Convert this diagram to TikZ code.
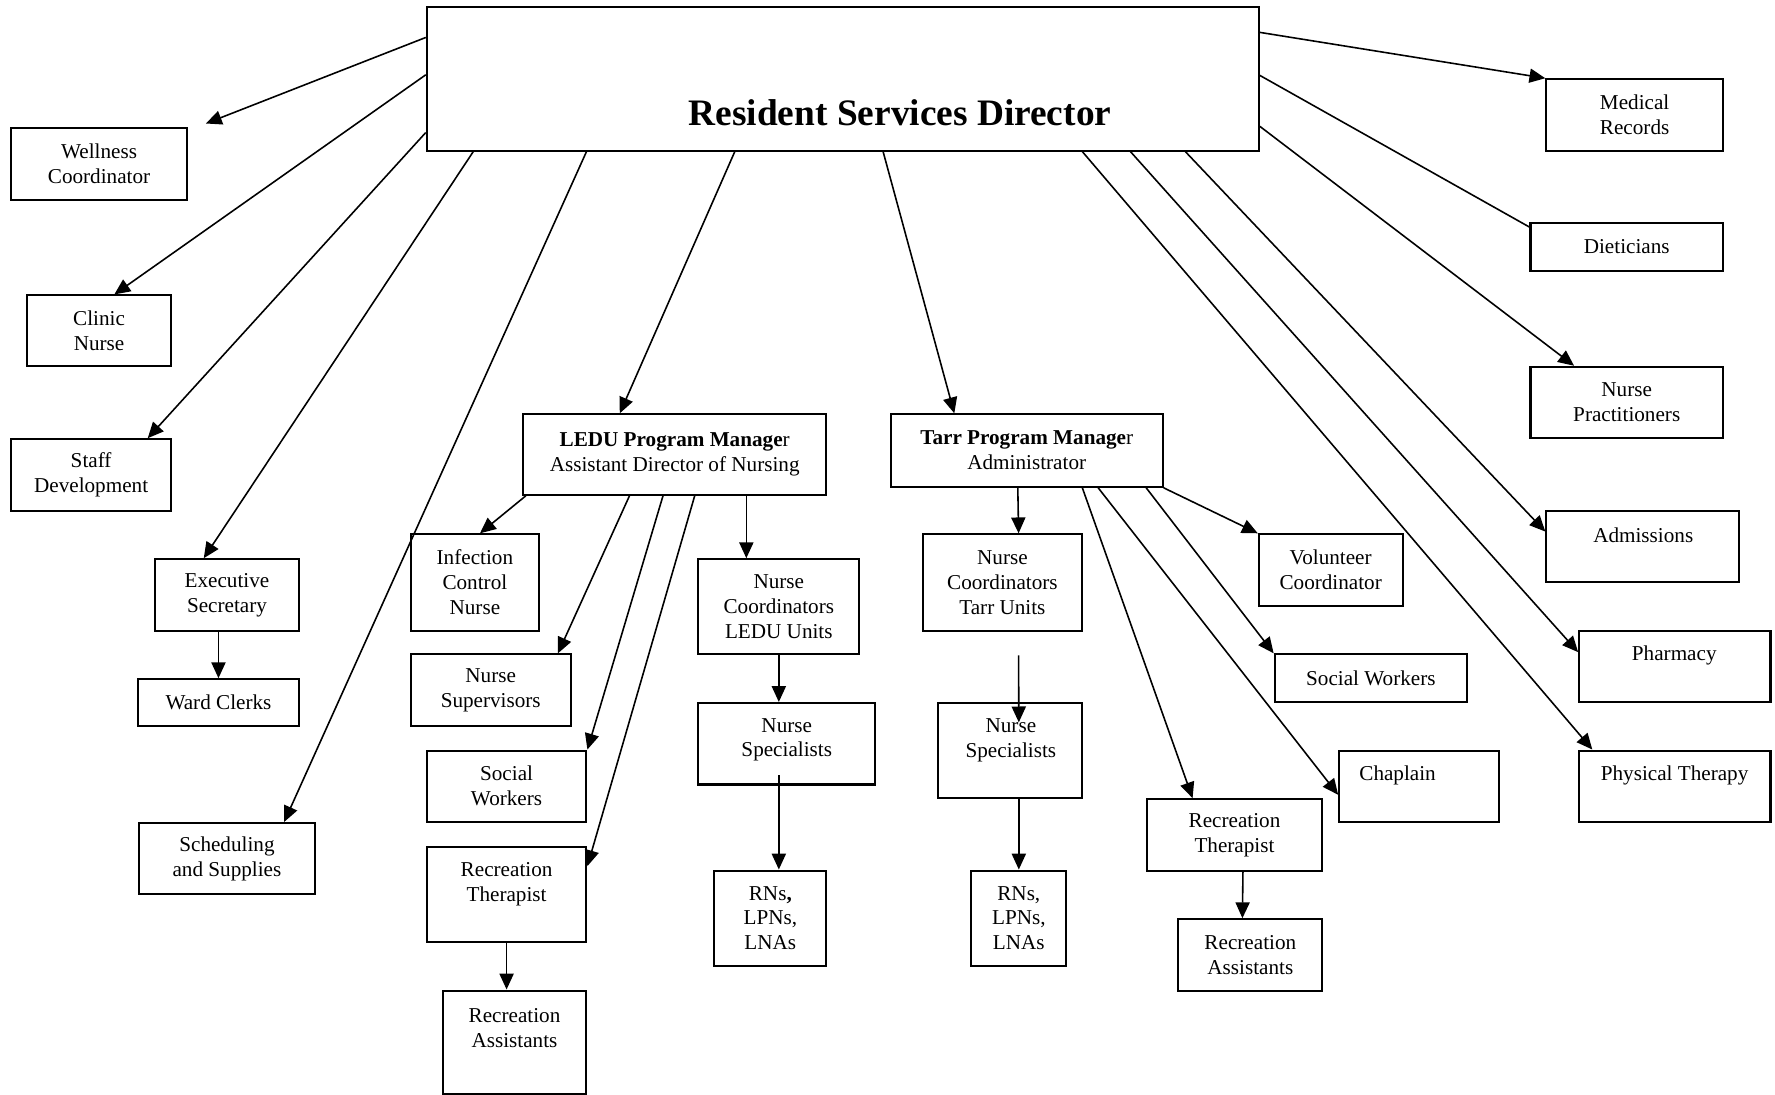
\documentclass[tikz,border=0pt]{standalone}
\usepackage{fontspec}
\setmainfont{Liberation Serif}
\usetikzlibrary{arrows.meta}
\usetikzlibrary{calc}

\begin{document}
\begin{tikzpicture}[x=1pt, y=-1pt,
        >={Triangle[length=14pt,width=12.5pt]},
        box/.style={draw, line width=1.8pt, inner sep=0pt, align=center, font=\fontsize{18.7}{22}\selectfont},
        txt/.style={inner sep=0pt, align=center, font=\fontsize{18.7}{22}\selectfont},
        link/.style={->, line width=1.4pt}]
        \useasboundingbox (0,0) rectangle (1568,967);

        % Director
        \node[box, minimum width=735pt, minimum height=127pt] (dir) at (744.5,69.5) {};
        \node[inner sep=0pt, anchor=base, font=\fontsize{33}{40}\selectfont\bfseries] (dir-t) at (795,110.5) {Resident Services Director};

        % Left column
        \node[box, minimum width=155pt, minimum height=64pt] (wellness) at (87.5,145) {Wellness\\Coordinator};
        \node[box, minimum width=127pt, minimum height=62pt] (clinic) at (87.5,292) {Clinic\\Nurse};
        \node[box, minimum width=141pt, minimum height=63pt] (staff) at (80.5,419.5) {Staff\\Development};
        \node[box, minimum width=127pt, minimum height=63pt] (execsec) at (200.5,525.5) {Executive\\Secretary};
        \node[box, minimum width=142pt, minimum height=41pt] (wardclerks) at (193,620.5) {Ward Clerks};
        \node[box, minimum width=155pt, minimum height=63pt] (sched) at (200.5,758.5) {Scheduling\\and Supplies};

        % LEDU branch
        \node[box, minimum width=268pt, minimum height=71pt] (ledu) at (596,401.5) {\textbf{LEDU Program Manage}r\\Assistant Director of Nursing};
        \node[box, minimum width=113pt, minimum height=85pt] (infection) at (419.5,514.5) {Infection\\Control\\Nurse};
        \node[box, minimum width=141pt, minimum height=63pt] (nursesup) at (433.5,609.5) {Nurse\\Supervisors};
        \node[box, minimum width=141pt, minimum height=63pt] (lsocial) at (447.5,694.5) {Social\\Workers};
        \node[box, minimum width=141pt, minimum height=84pt] (lrecther) at (447.5,790) {};
        \node[txt] (lrecther-t) at (447.5,781) {Recreation\\Therapist};
        \node[box, minimum width=127pt, minimum height=91pt] (lrecasst) at (454.5,920.5) {};
        \node[txt] (lrecasst-t) at (454.5,908) {Recreation\\Assistants};
        \node[box, minimum width=142pt, minimum height=84pt] (ncledu) at (688,536) {Nurse\\Coordinators\\LEDU Units};
        \node[box, minimum width=156pt, minimum height=72pt] (nsledu) at (695,657) {};
        \node[txt] (nsledu-t) at (695,653.5) {Nurse\\Specialists};
        \node[box, minimum width=99pt, minimum height=84pt] (rnledu) at (680.5,811) {RNs\textbf{,}\\LPNs,\\LNAs};

        % Tarr branch
        \node[box, minimum width=240pt, minimum height=64pt] (tarr) at (907,398) {\textbf{Tarr Program Manage}r\\Administrator};
        \node[box, minimum width=141pt, minimum height=85pt] (nctarr) at (885.5,514.5) {Nurse\\Coordinators\\Tarr Units};
        \node[box, minimum width=127pt, minimum height=84pt] (nstarr) at (892.5,663) {};
        \node[txt] (nstarr-t) at (893,654) {Nurse\\Specialists};
        \node[box, minimum width=84pt, minimum height=84pt] (rntarr) at (900,811) {RNs,\\LPNs,\\LNAs};
        \node[box, minimum width=127pt, minimum height=63pt] (volunteer) at (1175.5,503.5) {Volunteer\\Coordinator};
        \node[box, minimum width=170pt, minimum height=42pt] (tsocial) at (1211,599) {Social Workers};
        \node[box, minimum width=141pt, minimum height=63pt] (chaplain) at (1253.5,694.5) {};
        \node[txt] (chaplain-t) at (1234.6,685) {Chaplain};
        \node[box, minimum width=155pt, minimum height=63pt] (trecther) at (1090.5,737.5) {Recreation\\Therapist};
        \node[box, minimum width=127pt, minimum height=63pt] (trecasst) at (1104.5,843.5) {Recreation\\Assistants};

        % Right column
        \node[box, minimum width=156pt, minimum height=63pt] (medrec) at (1444,101.5) {Medical\\Records};
        \node[box, minimum width=170pt, minimum height=42pt] (dieticians) at (1437,218) {Dieticians};
        \node[box, minimum width=170pt, minimum height=63pt] (np) at (1437,355.5) {Nurse\\Practitioners};
        \node[box, minimum width=170pt, minimum height=63pt] (admissions) at (1451,482.5) {};
        \node[txt] (admissions-t) at (1451.6,473) {Admissions};
        \node[box, minimum width=169pt, minimum height=63pt] (pharmacy) at (1479.5,588.5) {};
        \node[txt] (pharmacy-t) at (1479,579) {Pharmacy};
        \node[box, minimum width=169pt, minimum height=63pt] (pt) at (1479.5,694.5) {};
        \node[txt] (pt-t) at (1479.3,685) {Physical Therapy};

        % Director to left side
        \draw[link] ([yshift=-28pt]dir.north west) -- ([xshift=16pt,yshift=3pt]wellness.north east);
        \draw[link] ([yshift=-61pt]dir.north west) -- ([xshift=13.5pt]clinic.north);
        \draw[link] ([yshift=-112pt]dir.north west) -- ([xshift=50pt]staff.north);
        \draw[link] ([xshift=42pt]dir.south west) -- ([xshift=-20.5pt]execsec.north);
        \draw[link] ([xshift=142pt]dir.south west) -- ([xshift=50.5pt]sched.north);
        \draw[link] (wardclerks.north |- execsec.south) -- (wardclerks.north);

        % Director to program managers
        \draw[link] ([xshift=273pt]dir.south west) -- ([xshift=-48.5pt]ledu.north);
        \draw[link] ([xshift=404pt]dir.south west) -- ([xshift=-64pt]tarr.north);

        % Director to right side
        \draw[link] ([xshift=580pt]dir.south west) -- ([xshift=12.5pt]pt.north west);
        \draw[link] ([xshift=622.5pt]dir.south west) -- ([yshift=-20pt]pharmacy.north west);
        \draw[link] ([xshift=671pt]dir.south west) -- ([yshift=-19.5pt]admissions.north west);
        \draw[link] ([yshift=-106.5pt]dir.north east) -- ([xshift=-46.5pt]np.north);
        \draw[line width=1.4pt] ([yshift=-61.5pt]dir.north east) -- ([yshift=-4.5pt]dieticians.north west);
        \draw[link] ([yshift=-23.5pt]dir.north east) -- (medrec.north west);

        % LEDU links
        \draw[link] ([xshift=3.5pt]ledu.south west) -- ([xshift=4.5pt]infection.north);
        \draw[link] ([xshift=95pt]ledu.south west) -- ([xshift=-12pt]nursesup.north east);
        \draw[link] ([xshift=124.6pt]ledu.south west) -- (lsocial.north east);
        \draw[link] ([xshift=152.6pt]ledu.south west) -- ([yshift=-18pt]lrecther.north east);
        \draw[link] ([xshift=-28.7pt]ncledu.north |- ledu.south) -- ([xshift=-28.7pt]ncledu.north);
        \draw[link] (lrecther.south) -- (lrecther.south |- lrecasst.north);
        \draw[link] (ncledu.south) -- (ncledu.south |- nsledu.north);
        \draw[link] ($(ncledu.south |- nsledu.south)+(0,-9)$) -- (ncledu.south |- rnledu.north);

        % Tarr links
        \draw[link] ([xshift=113pt]tarr.south west) -- ([xshift=14.3pt]nctarr.north);
        \draw[link] ([shift={(14.3pt,-21pt)}]nctarr.south) -- ([shift={(7.5pt,-18pt)}]nstarr.north);
        \draw[link] (rntarr.north |- nstarr.south) -- (rntarr.north);
        \draw[link] ([xshift=170pt]tarr.south west) -- ([xshift=-37pt]trecther.north);
        \draw[link] ([xshift=184pt]tarr.south west) -- ([yshift=-40pt]chaplain.north west);
        \draw[link] ([xshift=226.4pt]tarr.south west) -- (tsocial.north west);
        \draw[link] (tarr.south east) -- (volunteer.north west);
        \draw[link] ([xshift=7.5pt]trecther.south) -- ([xshift=-7pt]trecasst.north);

\end{tikzpicture}
\end{document}
